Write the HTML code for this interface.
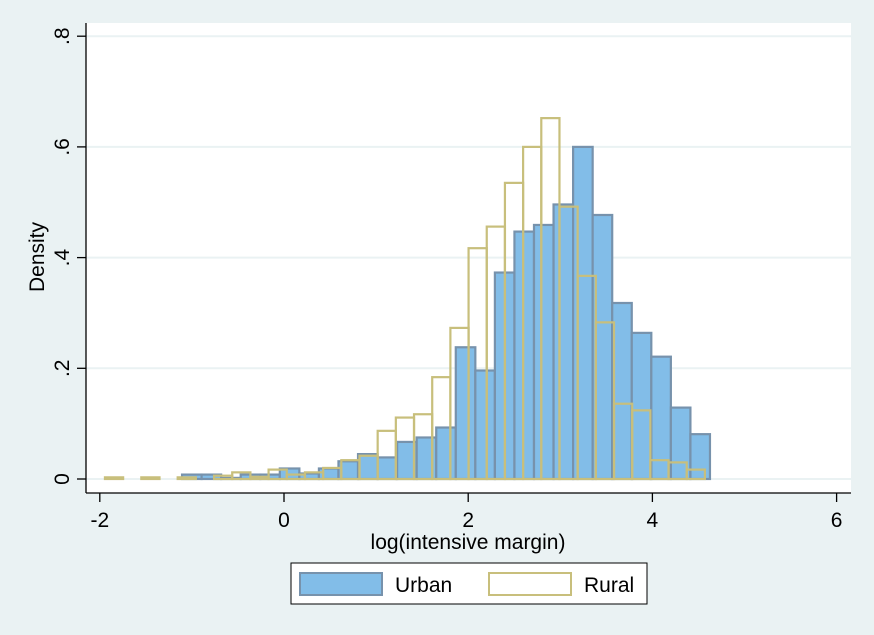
<!DOCTYPE html>
<html><head><meta charset="utf-8"><style>
body{margin:0;background:#EAF2F3;}
svg{display:block;font-family:"Liberation Sans",sans-serif;}
</style></head><body>
<svg id="chart" width="874" height="635">
<rect x="0" y="0" width="874" height="635" fill="#EAF2F3"/>
<rect x="86" y="23" width="765" height="470" fill="#ffffff"/>
<g id="grid"></g><g id="rural"></g><g id="urban"></g><g id="ruralTop"></g><g id="axes"></g>
<text x="0" y="0" transform="translate(44,257) rotate(-90)" text-anchor="middle" font-size="21">Density</text>
<text x="468" y="549" text-anchor="middle" font-size="21">log(intensive margin)</text>
<g>
<rect x="291" y="563" width="356" height="41" fill="#fff" stroke="#000" stroke-width="1"/>
<rect x="300" y="573" width="82" height="22" fill="#82BDE8" stroke="#7792AC" stroke-width="2"/>
<text x="395" y="592" font-size="21">Urban</text>
<rect x="489" y="573" width="82" height="22" fill="none" stroke="#C8BF7C" stroke-width="2"/>
<text x="584" y="592" font-size="21">Rural</text>
</g>
</svg>
<script>
const urbanStart = -1.107;
const urbanWidth = 0.2123;
const urbanValues = [0.008,0.008,0.002,0.008,0.008,0.019,0.010,0.019,0.032,0.045,0.039,0.067,0.075,0.093,0.238,0.196,0.373,0.447,0.459,0.496,0.600,0.477,0.318,0.264,0.221,0.129,0.081];
const ruralStart = -1.944;
const ruralWidth = 0.1974;
const ruralValues = [0.003,0,0.003,0,0.003,0,0.006,0.012,0.004,0.017,0.008,0.012,0.020,0.034,0.042,0.087,0.111,0.117,0.184,0.273,0.417,0.456,0.535,0.600,0.652,0.492,0.367,0.283,0.136,0.124,0.034,0.030,0.017];
const xTicks = [-2,0,2,4,6];
const xTickLabels = ["-2","0","2","4","6"];
const yTicks = [0,0.2,0.4,0.6,0.8];
const yTickLabels = ["0",".2",".4",".6",".8"];

const NS="http://www.w3.org/2000/svg";
const X = v => 284 + (v)*92.1;
const Y = v => 479 - v*553.5;
function mk(parent,tag,attrs){const e=document.createElementNS(NS,tag);for(const k in attrs)e.setAttribute(k,attrs[k]);document.getElementById(parent).appendChild(e);return e;}

yTicks.forEach((t,i)=>{
  const g=mk('grid','line',{x1:86,x2:851,y1:Y(t),y2:Y(t),stroke:'#EAF2F3','stroke-width':2});
  
  
  const tk=mk('axes','line',{x1:77,x2:86,y1:Y(t),y2:Y(t),stroke:'#000','stroke-width':1.3});
  
  
  const tl=mk('axes','text',{transform:`translate(69,${Y(t)}) rotate(-90)`,'text-anchor':'middle','font-size':21});
  tl.textContent=yTickLabels[i];
  
  
});
xTicks.forEach((t,i)=>{
  const tk=mk('axes','line',{x1:X(t),x2:X(t),y1:493,y2:502,stroke:'#000','stroke-width':1.3});
  
  
  const tl=mk('axes','text',{x:X(t),y:527,'text-anchor':'middle','font-size':21});
  tl.textContent=xTickLabels[i];
  
  
});
const ya=mk('axes','line',{x1:86,x2:86,y1:23,y2:493,stroke:'#000','stroke-width':1.3});


const xa=mk('axes','line',{x1:86,x2:851,y1:493,y2:493,stroke:'#000','stroke-width':1.3});



urbanValues.forEach((v,i)=>{
  const x0=X(urbanStart+i*urbanWidth), x1=X(urbanStart+(i+1)*urbanWidth);
  const r=mk('urban','rect',{x:x0,y:Y(v),width:x1-x0,height:Y(0)-Y(v),fill:'#82BDE8',stroke:'#7792AC','stroke-width':2.2});
  
  
});
ruralValues.forEach((v,i)=>{
  if(v<=0) return;
  const x0=X(ruralStart+i*ruralWidth), x1=X(ruralStart+(i+1)*ruralWidth);
  const r=mk('ruralTop','rect',{x:x0,y:Y(v),width:x1-x0,height:Y(0)-Y(v),fill:'none',stroke:'#C8BF7C','stroke-width':2.2});
  
  
});
</script>
</body></html>
